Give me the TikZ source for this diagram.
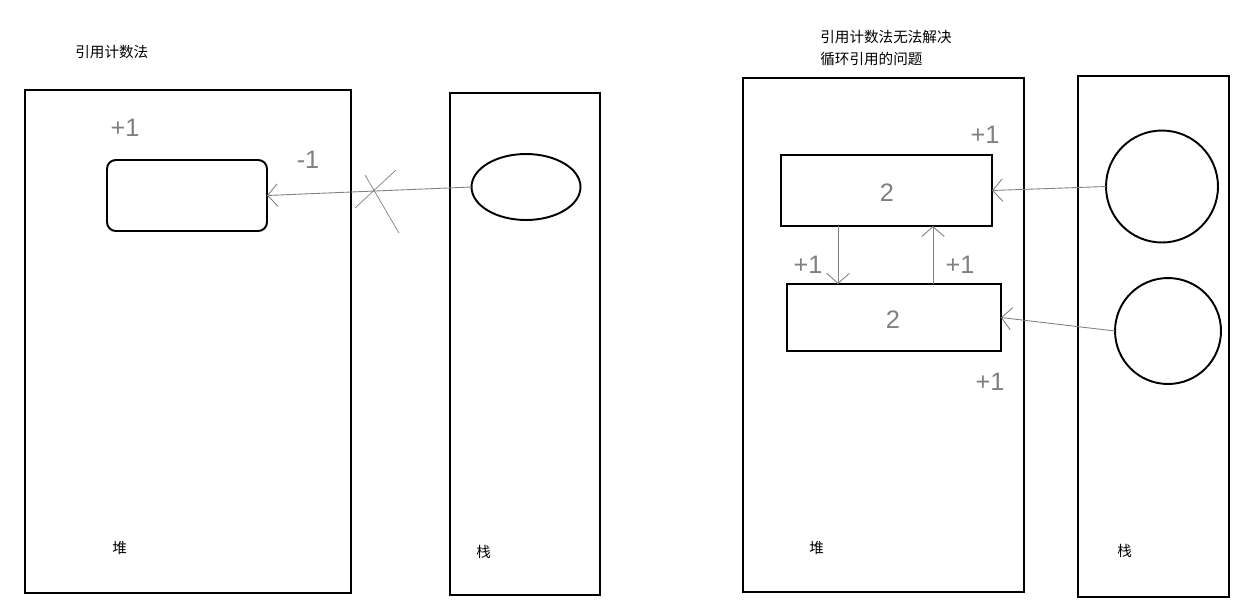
\documentclass[tikz,border=0pt]{standalone}
\usepackage{fontspec}
\setmainfont{Liberation Sans}
\newfontfamily\cjk{Noto Sans CJK SC}
\usetikzlibrary{arrows.meta,shapes.geometric}
\tikzset{
  box/.style={draw, line width=1.1pt, inner sep=0pt, outer sep=0pt},
  ref/.style={draw=gray, line width=0.5pt, -{Straight Barb[length=2mm,width=4.5mm]}},
  hand/.style={text=gray, font=\Large},
  caption/.style={font=\cjk\fontsize{8.3}{13}\selectfont, align=left, anchor=west, inner sep=0pt}
}
\begin{document}
\begin{tikzpicture}[x=0.02cm, y=-0.02cm]
  \useasboundingbox (0,0) rectangle (1246,613);
  % reference counting
  \node[caption] (t1) at (75,52) {引用计数法};
  \node[box, minimum width=6.52cm, minimum height=10.06cm] (heap1) at (188,341.5) {};
  \node[box, minimum width=3cm, minimum height=10.04cm] (stack1) at (525,344) {};
  \node[caption] (h1) at (112,548) {堆};
  \node[caption] (s1) at (476,552) {栈};
  \node[box, rounded corners=5pt, minimum width=3.2cm, minimum height=1.42cm] (obj) at (187,195.5) {};
  \node[box, ellipse, minimum width=2.18cm, minimum height=1.32cm] (var) at (526,187) {};
  \draw[ref] (var.west) -- (obj.east);
  \draw[gray] (355,208) -- (396,170) (365,175) -- (399,233);
  \node[hand] (p1) at (125,128) {+1};
  \node[hand] (m1) at (308,160) {-1};
  % circular reference
  \node[caption] (t2) at (820,48) {引用计数法无法解决\\循环引用的问题};
  \node[box, minimum width=5.62cm, minimum height=10.28cm] (heap2) at (883.5,335) {};
  \node[box, minimum width=3.02cm, minimum height=10.42cm] (stack2) at (1153.5,336.5) {};
  \node[caption] (h2) at (809,548) {堆};
  \node[caption] (s2) at (1117,551) {栈};
  \node[box, minimum width=4.22cm, minimum height=1.42cm] (a) at (886.5,190.5) {};
  \node[box, minimum width=4.28cm, minimum height=1.34cm] (b) at (894,317.5) {};
  \node[hand] (na) at (887,193) {2};
  \node[hand] (nb) at (893,320) {2};
  \node[box, circle, minimum size=2.24cm] (c1) at (1162,186.5) {};
  \node[box, circle, minimum size=2.12cm] (c2) at (1168,331) {};
  \draw[ref] (c1.west) -- (a.east);
  \draw[ref] (c2.west) -- (b.east);
  \draw[ref] ([xshift=1.14cm]a.south west) -- ([xshift=1.14cm]a.south west |- b.north);
  \draw[ref] ([xshift=3.04cm]a.south west |- b.north) -- ([xshift=3.04cm]a.south west);
  \node[hand] (pa) at (985,135) {+1};
  \node[hand] (pd) at (808,265) {+1};
  \node[hand] (pu) at (960,265) {+1};
  \node[hand] (pb) at (990,382) {+1};
\end{tikzpicture}
\end{document}
